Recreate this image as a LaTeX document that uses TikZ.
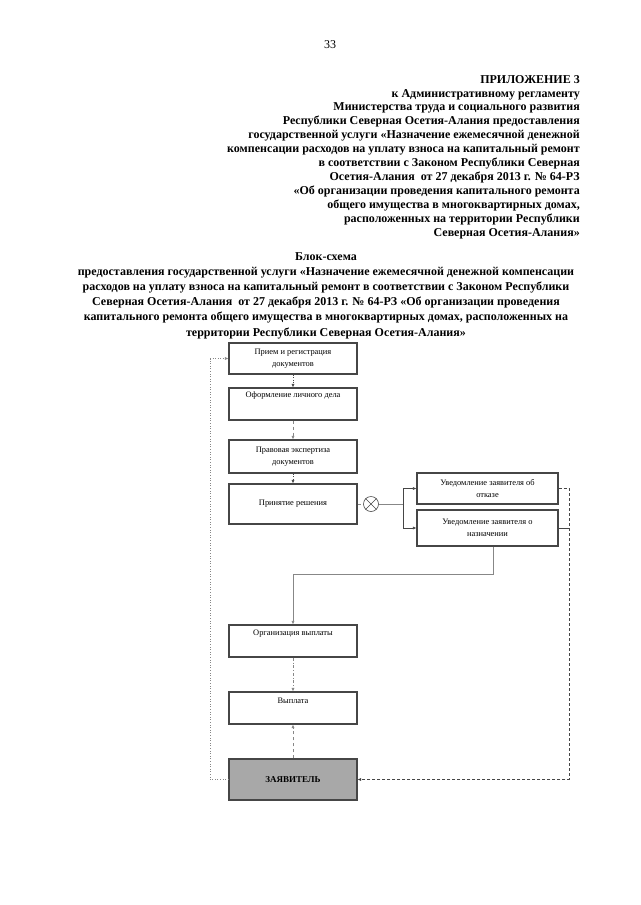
\documentclass[tikz,border=0pt]{standalone}
\usepackage{fontspec}
\setmainfont{Liberation Serif}
\usetikzlibrary{arrows.meta, calc}
\definecolor{boxgray}{RGB}{70, 70, 70}
\definecolor{linegray}{RGB}{135, 135, 135}
\definecolor{applgray}{RGB}{168, 168, 168}

\begin{document}
\begin{tikzpicture}[x=1pt, y=-1pt,
    stepbox/.style={draw=boxgray, line width=1.1pt, fill=white, minimum width=128pt,
        inner sep=1pt, align=center, font=\fontsize{8.4}{12}\selectfont},
    boxtext/.style={inner sep=0pt, font=\fontsize{8.4}{12}\selectfont},
    flow/.style={line width=0.6pt, -{Latex[length=3.5pt, width=3pt]}},
    darkdot/.style={boxgray, dotted},
    greydash/.style={linegray, dashed},
    greydashdot/.style={linegray, dash dot}]
    \useasboundingbox (0, 0) rectangle (640, 905);

    % Page number
    \node[font=\fontsize{12}{14}\selectfont] (page) at (330, 45) {33};

    % Header (appendix)
    \node[anchor=north east, inner sep=0pt, align=right, font=\fontsize{12}{13.9}\selectfont\bfseries]
        (head) at (580, 75) {ПРИЛОЖЕНИЕ 3\\
        к Административному регламенту\\
        Министерства труда и социального развития\\
        Республики Северная Осетия-Алания предоставления\\
        государственной услуги «Назначение ежемесячной денежной\\
        компенсации расходов на уплату взноса на капитальный ремонт\\
        в соответствии с Законом Республики Северная\\
        Осетия-Алания\ \ от 27 декабря 2013 г. № 64-РЗ\\
        «Об организации проведения капитального ремонта\\
        общего имущества в многоквартирных домах,\\
        расположенных на территории Республики\\
        Северная Осетия-Алания»};

    % Title
    \node[anchor=north, inner sep=0pt, align=center, font=\fontsize{12}{15.2}\selectfont\bfseries]
        (title) at (326, 252) {Блок-схема\\
        предоставления государственной услуги «Назначение ежемесячной денежной компенсации\\
        расходов на уплату взноса на капитальный ремонт в соответствии с Законом Республики\\
        Северная Осетия-Алания\ \ от 27 декабря 2013 г. № 64-РЗ «Об организации проведения\\
        капитального ремонта общего имущества в многоквартирных домах, расположенных на\\
        территории Республики Северная Осетия-Алания»};

    % Main chain
    \node[stepbox, minimum height=31pt] (b1) at (293, 358.5) {Прием и регистрация\\документов};
    \node[stepbox, minimum height=32pt] (b2) at (293, 404) {};
    \node[boxtext] at ($(b2.north)+(0, 8)$) {Оформление личного дела};
    \node[stepbox, minimum height=33pt] (b3) at (293, 456.5) {Правовая экспертиза\\документов};
    \node[stepbox, minimum height=40pt] (b4) at (293, 504) {Принятие решения};

    % Decision
    \node[draw=boxgray, circle, line width=0.6pt, minimum size=15pt, inner sep=0pt] (xr) at (371, 504) {};
    \draw[boxgray, line width=0.5pt] (xr.north west) -- (xr.south east) (xr.north east) -- (xr.south west);
    \coordinate (fork) at (403, 504);
    \node[stepbox, minimum width=141pt, minimum height=31pt] (b5) at (487.5, 488.5) {Уведомление заявителя об\\отказе};
    \node[stepbox, minimum width=141pt, minimum height=36pt] (b6) at (487.5, 528) {Уведомление заявителя о\\назначении};

    % Payment
    \node[stepbox, minimum height=32pt] (b7) at (293, 641) {};
    \node[boxtext] at ($(b7.north)+(0, 9)$) {Организация выплаты};
    \node[stepbox, minimum height=32pt] (b8) at (293, 708) {};
    \node[boxtext] at ($(b8.north)+(0, 9)$) {Выплата};
    \node[stepbox, minimum height=41pt, fill=applgray, font=\fontsize{9}{11}\selectfont\bfseries]
        (b9) at (293, 779.5) {ЗАЯВИТЕЛЬ};

    % Connectors
    \foreach \src/\dst/\sty in {b1/b2/darkdot, b2/b3/greydash, b3/b4/darkdot,
        b7/b8/greydashdot, b9/b8/greydash} {
        \draw[flow, \sty] (\src) -- (\dst);
    }
    \draw[greydash, line width=0.6pt] (b4) -- (xr);
    \draw[linegray, line width=0.6pt] (xr) -- (fork);
    \draw[flow, boxgray] (fork) |- (b5.west);
    \draw[flow, boxgray] (fork) |- (b6.west);

    % Back to applicant
    \coordinate (rline) at (569, 0);
    \coordinate (turn) at (493, 574);
    \coordinate (lline) at (210, 0);
    \draw[flow, boxgray, densely dashed] (b5.east) -| (b9.east -| rline) -- (b9.east);
    \draw[boxgray, line width=0.6pt] (b6.east) -- (b6.east -| rline);
    \draw[flow, linegray] (b6.south -| turn) -- (turn) -| (b7.north);
    \draw[flow, linegray, dotted] (b9.west) -| (b1.west -| lline) -- (b1.west);
\end{tikzpicture}
\end{document}
